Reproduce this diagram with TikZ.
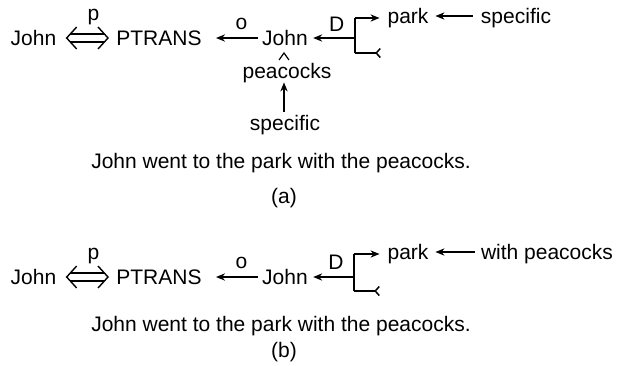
\documentclass[tikz,border=0pt]{standalone}
\usepackage{fontspec}
\setmainfont{Liberation Sans}
\usetikzlibrary{arrows.meta}

\begin{document}
\begin{tikzpicture}[x=0.5pt, y=-0.5pt, font=\fontsize{10.5}{12}\selectfont,
    every node/.style={inner sep=0pt, text height=7.5pt, text depth=0pt},
    arr/.style={-{Stealth[length=4.5pt,width=3.6pt]}, line width=0.75pt},
    tail/.style={-{Straight Barb[reversed,length=2pt,width=4.5pt]}, line width=0.75pt},
    rel/.style={double, double distance=3.3pt, line width=0.7pt, shorten <=1.9pt, shorten >=1.9pt},
    chev/.style={line width=0.7pt}]
  \useasboundingbox (0,0) rectangle (617,365);

  % (a)
  \node (Ja) at (33.5,38) {John};
  \node (Pa) at (159,38) {PTRANS};
  \node (Aa) at (285,38) {John};
  \node (Ka) at (408,16) {park};
  \node (Sa) at (516,16) {specific};
  \node (Ca) at (287,70.5) {peacocks};
  \node (Ta) at (285,122.5) {specific};
  \node (Ea) at (281,161) {John went to the park with the peacocks.};
  \node (La) at (284,196) {(a)};
  \coordinate (Ra) at ([xshift=5pt]Ja.east);
  \coordinate (Qa) at ([xshift=-4pt]Pa.west);
  \coordinate (Ba) at (355,38);
  \coordinate (Ua) at (355,18);
  \coordinate (Va) at (355,53);
  \coordinate (Wa) at (381,53);
  \coordinate (Ha) at (284,53);
  \draw [rel] (Ra) -- (Qa) node [pos=0.65, above=8.6pt] {p};
  \draw [chev] ([shift={(10,-11)}]Ra) -- (Ra) -- ([shift={(10,11)}]Ra);
  \draw [chev] ([shift={(-10,-11)}]Qa) -- (Qa) -- ([shift={(-10,11)}]Qa);
  \draw [arr] ([xshift=-2pt]Aa.west) -- ([xshift=7pt]Pa.east) node [pos=0.39, above=4pt] {o};
  \draw [arr] (Ba) -- ([xshift=2.5pt]Aa.east) node [pos=0.44, above=3pt] {D};
  \draw [line width=0.75pt] (Ua) -- (Va);
  \draw [arr] (Ua) -- ([xshift=-3.8pt]Ua -| Ka.west);
  \draw [tail] (Va) -- (Wa);
  \draw [arr] ([xshift=-4pt]Sa.west) -- ([xshift=3.3pt]Ka.east);
  \draw [line width=0.6pt] ([shift={(-5,7)}]Ha) -- (Ha) -- ([shift={(5,7)}]Ha);
  \draw [arr] ([yshift=1.5pt]Ta.north -| Ha) -- ([yshift=-2pt]Ha |- Ca.south);

  % (b)
  \node (Jb) at (33.5,277) {John};
  \node (Pb) at (159,277) {PTRANS};
  \node (Ab) at (285,277) {John};
  \node (Kb) at (408,252) {park};
  \node (Sb) at (547,252) {with peacocks};
  \node (Eb) at (281,324) {John went to the park with the peacocks.};
  \node (Lb) at (284,350) {(b)};
  \coordinate (Rb) at ([xshift=5pt]Jb.east);
  \coordinate (Qb) at ([xshift=-4pt]Pb.west);
  \coordinate (Bb) at (354,277);
  \coordinate (Ub) at (354,254);
  \coordinate (Vb) at (354,291);
  \coordinate (Wb) at (380,291);
  \draw [rel] (Rb) -- (Qb) node [pos=0.65, above=8.6pt] {p};
  \draw [chev] ([shift={(10,-11)}]Rb) -- (Rb) -- ([shift={(10,11)}]Rb);
  \draw [chev] ([shift={(-10,-11)}]Qb) -- (Qb) -- ([shift={(-10,11)}]Qb);
  \draw [arr] ([xshift=-2pt]Ab.west) -- ([xshift=7pt]Pb.east) node [pos=0.39, above=4pt] {o};
  \draw [arr] (Bb) -- ([xshift=2.5pt]Ab.east) node [pos=0.44, above=3.5pt] {D};
  \draw [line width=0.75pt] (Ub) -- (Vb);
  \draw [arr] (Ub) -- ([xshift=-3.8pt]Ub -| Kb.west);
  \draw [tail] (Vb) -- (Wb);
  \draw [arr] ([xshift=-3pt]Sb.west) -- ([xshift=3.3pt]Kb.east);
\end{tikzpicture}
\end{document}
